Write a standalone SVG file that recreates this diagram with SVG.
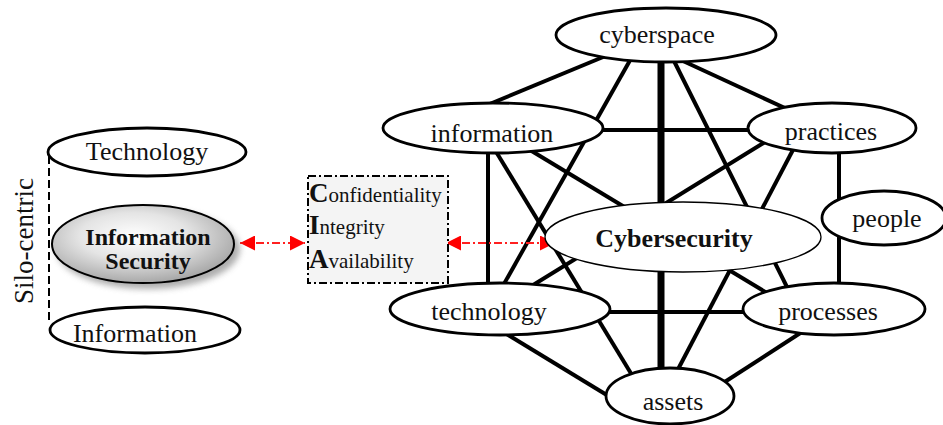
<svg xmlns="http://www.w3.org/2000/svg" width="943" height="425" viewBox="0 0 943 425">
<defs>
<style>
.n{fill:#fff;stroke:#000;stroke-width:2.8}
.t{font-family:"Liberation Serif","Times New Roman",serif;font-size:26px;fill:#111;text-anchor:middle}
.b{font-weight:bold}
.e{stroke:#000;stroke-width:4;fill:none}
.red{stroke:#ff2020;stroke-width:2;stroke-dasharray:8 3 2 3;fill:none}
.cia{font-family:"Liberation Serif","Times New Roman",serif;font-size:21px;fill:#111}
.big{font-weight:bold;font-size:27px}
</style>
<radialGradient id="g" cx="0.45" cy="0.4" r="0.6">
<stop offset="0" stop-color="#ffffff"/>
<stop offset="0.5" stop-color="#e4e4e4"/>
<stop offset="1" stop-color="#a8a8a8"/>
</radialGradient>
<filter id="sh" x="-30%" y="-30%" width="160%" height="160%">
<feGaussianBlur stdDeviation="3"/>
</filter>
<filter id="bl" x="-200%" y="-10%" width="500%" height="120%">
<feGaussianBlur stdDeviation="4"/>
</filter>
<marker id="ah" viewBox="0 0 10 10" refX="10" refY="5" markerWidth="15" markerHeight="15" markerUnits="userSpaceOnUse" orient="auto-start-reverse">
<path d="M0,0 L10,5 L0,10 z" fill="#ff0000"/>
</marker>
</defs>
<rect width="943" height="425" fill="#fff"/>

<g id="connectors">
<line x1="662" y1="58" x2="662" y2="375" stroke="#aaaaaa" stroke-width="14" filter="url(#bl)"/>
<line class="e" x1="661" y1="55" x2="661" y2="380" style="stroke-width:7"/>
<line class="e" x1="620" y1="50" x2="480" y2="108"/>
<line class="e" x1="633" y1="55" x2="500" y2="291"/>
<line class="e" x1="671" y1="55" x2="790" y2="293"/>
<line class="e" x1="670" y1="55" x2="800" y2="115"/>
<line class="e" x1="595" y1="130" x2="755" y2="130"/>
<line class="e" x1="488" y1="145" x2="488" y2="295"/>
<line class="e" x1="495" y1="150" x2="635" y2="380"/>
<line class="e" x1="525" y1="147" x2="772" y2="296"/>
<line class="e" x1="770" y1="139" x2="525" y2="290"/>
<line class="e" x1="795" y1="146" x2="675" y2="375"/>
<line class="e" x1="839" y1="150" x2="839" y2="290"/>
<line class="e" x1="600" y1="312" x2="750" y2="312"/>
<line class="e" x1="505" y1="333" x2="615" y2="400"/>
<line class="e" x1="805" y1="330" x2="720" y2="385"/>
<line class="red" x1="240" y1="243" x2="305" y2="243" marker-start="url(#ah)" marker-end="url(#ah)"/>
<line class="red" x1="446" y1="243" x2="555" y2="243" marker-start="url(#ah)" marker-end="url(#ah)"/>
<line x1="49" y1="156" x2="49" y2="324" stroke="#000" stroke-width="2" stroke-dasharray="8 4"/>
</g>

<g id="silo-label">
<text class="t" transform="translate(33,241) rotate(-90)" style="font-size:27px">Silo-centric</text>
</g>

<g id="left-technology">
<ellipse class="n" cx="147" cy="152" rx="99" ry="24"/>
<text class="t" x="147" y="160">Technology</text>
</g>

<g id="information-security">
<ellipse cx="148" cy="249" rx="92" ry="40" fill="#777" opacity="0.6" filter="url(#sh)"/>
<ellipse cx="143" cy="244" rx="91" ry="39" fill="url(#g)" stroke="#000" stroke-width="2"/>
<text class="t b" x="148" y="245" style="font-size:24px">Information</text>
<text class="t b" x="148" y="269" style="font-size:24px">Security</text>
</g>

<g id="left-information">
<ellipse class="n" cx="145" cy="330" rx="95" ry="23"/>
<text class="t" x="135" y="342">Information</text>
</g>

<g id="cia">
<rect x="308" y="176" width="140" height="107" fill="#f4f4f4" stroke="#000" stroke-width="2" stroke-dasharray="8 3 2 3"/>
<text class="cia" x="309" y="202"><tspan class="big">C</tspan>onfidentiality</text>
<text class="cia" x="309" y="234"><tspan class="big">I</tspan>ntegrity</text>
<text class="cia" x="309" y="268"><tspan class="big">A</tspan>vailability</text>
</g>

<g id="cyberspace">
<ellipse class="n" cx="666" cy="35" rx="110" ry="27"/>
<text class="t" x="657" y="43">cyberspace</text>
</g>
<g id="information">
<ellipse class="n" cx="493" cy="128" rx="110" ry="25"/>
<text class="t" x="492" y="142">information</text>
</g>
<g id="practices">
<ellipse class="n" cx="832" cy="128" rx="84" ry="25"/>
<text class="t" x="831" y="140">practices</text>
</g>
<g id="people">
<ellipse class="n" cx="884" cy="218" rx="62" ry="27"/>
<text class="t" x="887" y="227">people</text>
</g>
<g id="cybersecurity">
<ellipse cx="683" cy="237" rx="138" ry="35" fill="#fff" stroke="#000" stroke-width="1.3"/>
<text class="t b" x="674" y="247">Cybersecurity</text>
</g>
<g id="technology">
<ellipse class="n" cx="500" cy="309" rx="110" ry="26"/>
<text class="t" x="489" y="320">technology</text>
</g>
<g id="processes">
<ellipse class="n" cx="834" cy="309" rx="91" ry="26"/>
<text class="t" x="828" y="320">processes</text>
</g>
<g id="assets">
<ellipse class="n" cx="670" cy="396" rx="64" ry="28"/>
<text class="t" x="673" y="410">assets</text>
</g>
</svg>
